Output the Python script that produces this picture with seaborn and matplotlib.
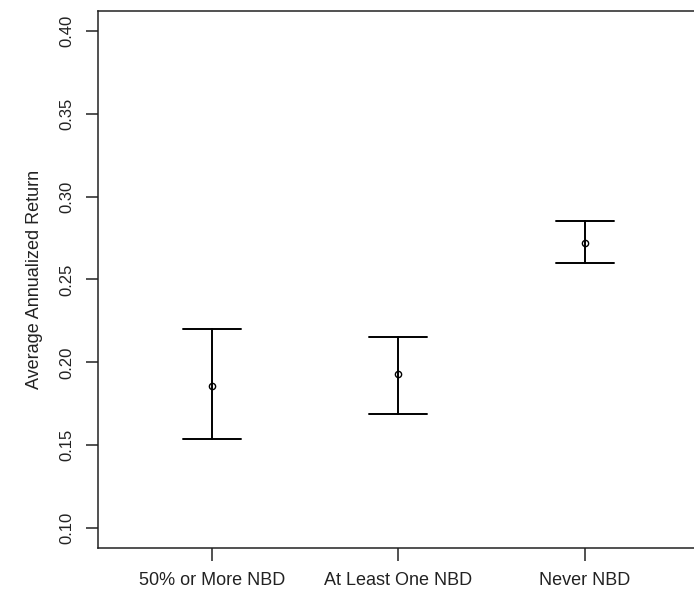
import numpy as np
import pandas as pd
import matplotlib
matplotlib.use("Agg")
import matplotlib.pyplot as plt
import seaborn as sns

# values
groups = ["50% or More NBD", "At Least One NBD", "Never NBD"]
lower = [0.154, 0.169, 0.260]
means = [0.186, 0.193, 0.272]
upper = [0.220, 0.215, 0.285]
yticks = [0.10, 0.15, 0.20, 0.25, 0.30, 0.35, 0.40]

sns.set_style("ticks")
plt.rcParams["font.family"] = ["Liberation Sans", "DejaVu Sans"]

# long form: median of (lower, mean, upper) is the mean, 100% interval is lower..upper
df = pd.DataFrame({
    "group": np.repeat(groups, 3),
    "value": np.ravel(np.column_stack([lower, means, upper])),
})

fig = plt.figure(figsize=(6.94, 5.91), dpi=100)
# the reference box runs off the right edge of the image
ax = fig.add_axes([0.1412, 0.0728, 0.8674, 0.9086])

sns.pointplot(data=df, x="group", y="value", order=groups, estimator="median",
              errorbar=("pi", 100), capsize=0.31, linestyle="none",
              color="black", marker="o", markersize=4.5,
              markerfacecolor="none", markeredgewidth=1.0,
              err_kws={"linewidth": 1.4}, ax=ax)

ax.set_xlim(-0.61, 2.617)
ax.set_ylim(0.088, 0.412)
ax.set_yticks(yticks)
ax.set_yticklabels([f"{t:.2f}" for t in yticks], rotation=90, va="center")
ax.set_xlabel("")
ax.set_ylabel("Average Annualized Return", fontsize=13, labelpad=12,
              color="#222222")
ax.tick_params(axis="both", length=9, width=1.1, color="#222222",
               labelcolor="#222222", pad=8)
ax.tick_params(axis="x", labelsize=13)
ax.tick_params(axis="y", labelsize=12)
for s in ax.spines.values():
    s.set_linewidth(1.1)
    s.set_color("#222222")

fig.savefig("out.png", dpi=100)
